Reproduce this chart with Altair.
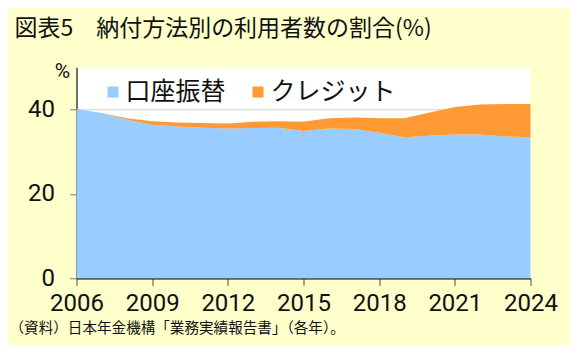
import altair as alt
import pandas as pd

years = list(range(2006, 2025))
account_transfer = [40.1, 39.2, 37.6, 36.4, 36.0, 35.7, 35.5, 35.6, 35.7, 34.9,
                    35.5, 35.4, 34.5, 33.4, 33.8, 34.1, 34.1, 33.6, 33.4]
credit = [0.0, 0.0, 0.3, 0.8, 0.9, 1.1, 1.2, 1.5, 1.5, 2.2,
          2.4, 2.7, 3.4, 4.5, 5.5, 6.5, 7.1, 7.7, 7.9]
series_names = ["口座振替", "クレジット"]
series_colors = ["#99CCFF", "#FF9933"]
x_ticks = [2006, 2009, 2012, 2015, 2018, 2021, 2024]
y_ticks = [0, 20, 40]

title_text = "図表5\u3000納付方法別の利用者数の割合(%)"
source_text = "（資料）日本年金機構「業務実績報告書」（各年）。"
unit_text = "%"

CJK = "Noto Sans CJK JP"
NUM = "Roboto"

rows = []
for i, y in enumerate(years):
    rows.append({"year": y, "series": series_names[0], "value": account_transfer[i], "ord": 0})
    rows.append({"year": y, "series": series_names[1], "value": credit[i], "ord": 1})
df = pd.DataFrame(rows)

area = alt.Chart(df).mark_area(interpolate="linear").encode(
    x=alt.X("year:Q", scale=alt.Scale(domain=[2006, 2024], nice=False, zero=False),
            axis=alt.Axis(values=x_ticks, format="d", title=None, grid=False,
                          tickSize=7, labelPadding=6, labelFont=NUM, labelFontSize=24,
                          labelOverlap=False, labelFlush=False,
                          labelColor="#111", domainColor="#111", domainWidth=1.2,
                          tickColor="#444")),
    y=alt.Y("value:Q", stack="zero", scale=alt.Scale(domain=[0, 50], nice=False),
            axis=alt.Axis(values=y_ticks, title=None, grid=True, gridColor="#d0d0d0",
                          tickSize=7, labelPadding=15, labelFont=NUM, labelFontSize=24,
                          labelOverlap=False, labelFlush=False,
                          labelColor="#111", domainColor="#111", domainWidth=1.2,
                          tickColor="#777")),
    color=alt.Color("series:N",
                    scale=alt.Scale(domain=series_names, range=series_colors),
                    sort=series_names,
                    legend=alt.Legend(orient="none", legendX=24, legendY=12,
                                      direction="horizontal", title=None,
                                      symbolType="square", symbolSize=121,
                                      symbolStrokeWidth=0, symbolOpacity=1,
                                      labelFont=CJK, labelFontSize=25,
                                      labelColor="#111", labelOffset=0,
                                      columnPadding=19)),
    order=alt.Order("ord:Q", sort="ascending"),
)

title_mark = alt.Chart(pd.DataFrame({"t": [title_text]})).mark_text(
    align="left", baseline="middle", font=CJK, fontSize=23, color="#111"
).encode(x=alt.value(-62), y=alt.value(-38), text="t:N")

source_mark = alt.Chart(pd.DataFrame({"t": [source_text]})).mark_text(
    align="left", baseline="middle", font=CJK, fontSize=14.6, color="#111"
).encode(x=alt.value(-67), y=alt.value(262), text="t:N")

unit_mark = alt.Chart(pd.DataFrame({"t": [unit_text]})).mark_text(
    align="center", baseline="middle", font=NUM, fontSize=21, color="#111"
).encode(x=alt.value(-14), y=alt.value(5), text="t:N")

chart = alt.layer(area, title_mark, source_mark, unit_mark).properties(
    width=454, height=211,
    autosize=alt.AutoSizeParams(type="none"),
    padding={"left": 68.5, "top": 59.3, "right": 39.5, "bottom": 67},
    background="#FFFFCC",
).configure_view(fill="white", stroke=None)

chart.save("out.html", embed_options={"renderer": "svg", "actions": False})
